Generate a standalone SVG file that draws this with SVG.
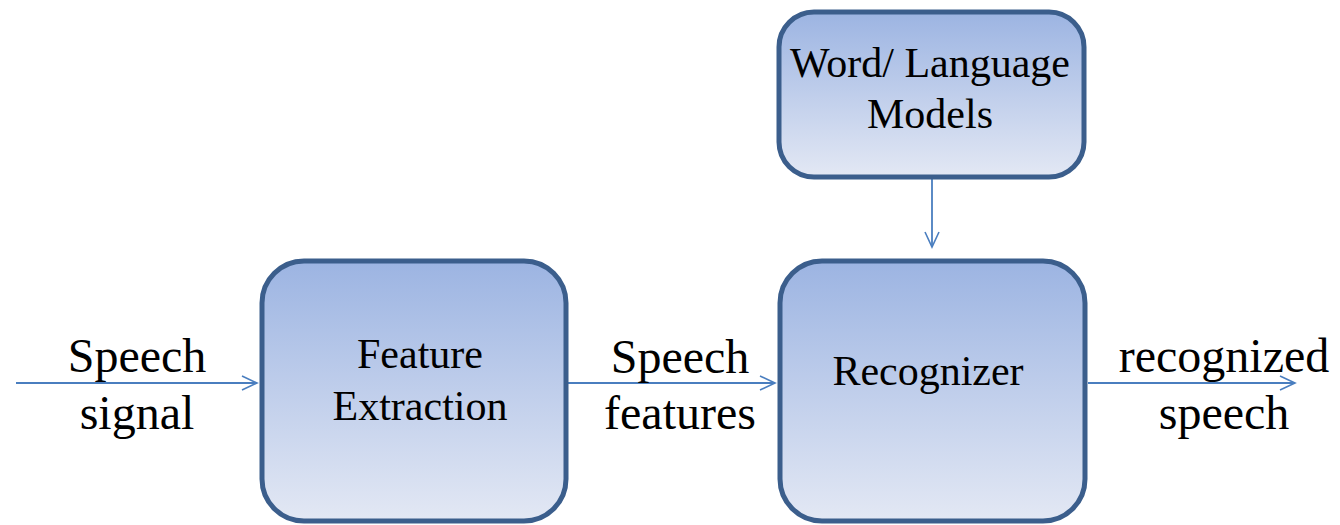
<svg xmlns="http://www.w3.org/2000/svg" width="1340" height="525" viewBox="0 0 1340 525">
  <defs>
    <linearGradient id="boxFill" x1="0" y1="0" x2="0" y2="1">
      <stop offset="0" stop-color="#9cb4e2"/>
      <stop offset="1" stop-color="#e3e8f4"/>
    </linearGradient>
    <marker id="open" markerWidth="20" markerHeight="20" refX="16" refY="8" orient="auto" markerUnits="userSpaceOnUse">
      <path d="M1,1 L16,8 L1,15" fill="none" stroke="#4a7ebf" stroke-width="1.6"/>
    </marker>
  </defs>
  <style>
    .box { fill: url(#boxFill); stroke: #3b5e8c; stroke-width: 5; }
    .lbl { font-family: "Liberation Serif", "Times New Roman", serif; fill: #000; text-anchor: middle; }
    .in { font-size: 42px; }
    .out { font-size: 48px; }
    .conn { stroke: #4a7ebf; stroke-width: 1.8; fill: none; marker-end: url(#open); }
  </style>
  <rect width="1340" height="525" fill="#fff"/>

  <g id="connectors">
    <line class="conn" x1="16" y1="383" x2="257" y2="383"/>
    <line class="conn" x1="568" y1="383" x2="775" y2="383"/>
    <line class="conn" x1="1088" y1="383" x2="1295" y2="383"/>
    <line class="conn" x1="932" y1="168" x2="932" y2="247"/>
  </g>

  <g id="feature-extraction">
    <rect class="box" x="262" y="261" width="304" height="260" rx="42"/>
    <text class="lbl in" x="420" y="368">Feature</text>
    <text class="lbl in" x="420" y="420">Extraction</text>
  </g>

  <g id="recognizer">
    <rect class="box" x="780" y="261" width="305" height="260" rx="42"/>
    <text class="lbl in" x="928" y="385">Recognizer</text>
  </g>

  <g id="language-models">
    <rect class="box" x="779" y="12" width="305" height="165" rx="35"/>
    <text class="lbl in" x="930" y="77">Word/ Language</text>
    <text class="lbl in" x="930" y="128">Models</text>
  </g>

  <g id="edge-labels">
    <text class="lbl out" x="137" y="372">Speech</text>
    <text class="lbl out" x="137" y="429">signal</text>
    <text class="lbl out" x="680" y="373">Speech</text>
    <text class="lbl out" x="680" y="429">features</text>
    <text class="lbl out" x="1224" y="372">recognized</text>
    <text class="lbl out" x="1224" y="429">speech</text>
  </g>
</svg>
